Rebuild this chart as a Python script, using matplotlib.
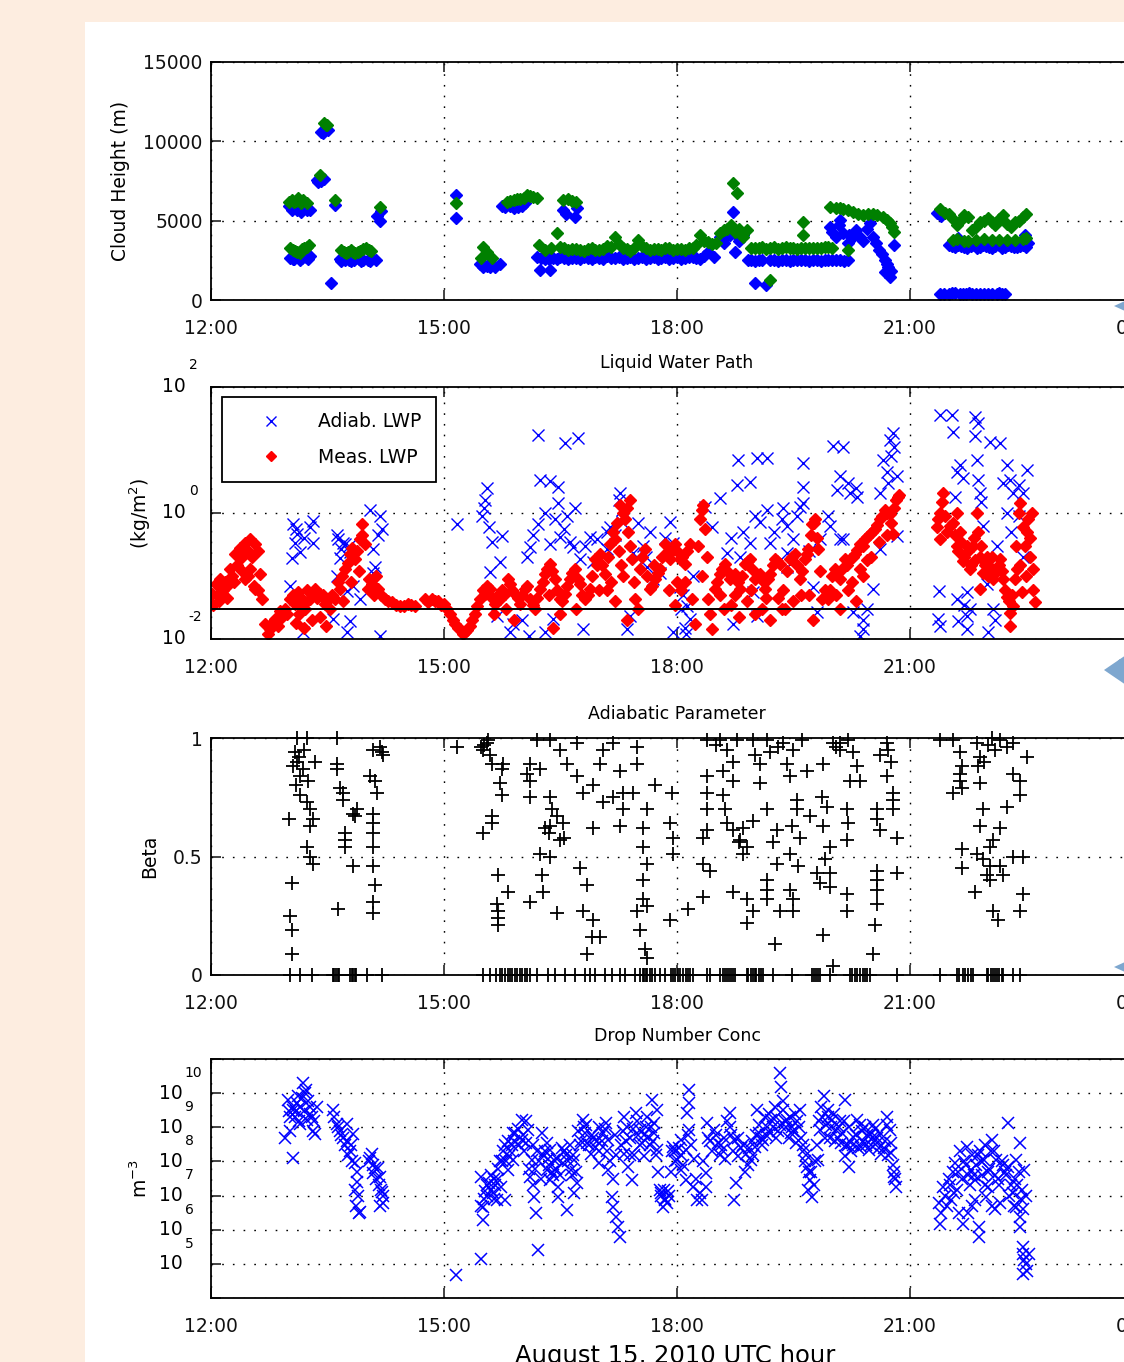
import numpy as np
import matplotlib
matplotlib.use('Agg')
import matplotlib.pyplot as plt
from matplotlib.patches import Rectangle, Polygon
from matplotlib.ticker import NullLocator

plt.rcParams['font.family'] = ['DejaVu Sans']
plt.rcParams['mathtext.default'] = 'regular'

# time axis (UTC hour)
hour_ticks = [12, 15, 18, 21, 24]
hour_labels = ['12:00', '15:00', '18:00', '21:00', '00:00']

# cloud base / cloud top height (hour, m)
cloud_base = [
    (13.01, 5900), (13.06, 5800), (13.11, 5650), (13.16, 5550), (13.21, 5800), (13.27, 5700),
    (13.04, 5700), (13.13, 5850), (13.24, 5650),
    (13.02, 2650), (13.07, 2600), (13.12, 2700), (13.17, 2650), (13.22, 2700), (13.28, 2750),
    (13.05, 2600), (13.14, 2550), (13.25, 2600),
    (13.36, 7550), (13.42, 7500), (13.46, 7600), (13.38, 7450),
    (13.42, 10600), (13.48, 10800), (13.51, 10700), (13.44, 10550),
    (13.55, 1070), (13.60, 6000),
    (13.66, 2600), (13.72, 2500), (13.78, 2550), (13.84, 2500), (13.90, 2600), (13.96, 2500),
    (14.02, 2550), (14.07, 2650), (13.68, 2450), (13.80, 2450), (13.93, 2450), (14.05, 2450),
    (14.12, 2550), (14.14, 5300), (14.17, 5000), (14.19, 5600),
    (15.15, 6600), (15.15, 5150),
    (15.46, 2250), (15.52, 2200), (15.59, 2050), (15.66, 2100), (15.72, 2300), (15.50, 2050),
    (15.56, 2150),
    (15.75, 5950), (15.85, 5900), (15.95, 5850), (16.04, 6100), (15.78, 5850), (15.90, 5800),
    (16.00, 5900),
    (16.24, 1900), (16.37, 1900), (16.53, 5650), (16.69, 5250), (16.71, 5800), (16.57, 5400),
    (16.20, 2700), (16.30, 2600), (16.40, 2650), (16.50, 2700), (16.60, 2600), (16.70, 2650),
    (16.80, 2700), (16.90, 2600), (17.00, 2650), (17.10, 2750), (17.20, 2650), (17.30, 2600),
    (17.40, 2700), (17.50, 2650), (17.60, 2600), (17.70, 2700), (17.80, 2650), (17.90, 2600),
    (18.00, 2700), (18.10, 2650), (18.20, 2700), (18.30, 2600),
    (16.25, 2650), (16.35, 2600), (16.45, 2600), (16.55, 2650), (16.65, 2650), (16.75, 2600),
    (16.85, 2650), (16.95, 2700), (17.05, 2600), (17.15, 2650), (17.25, 2700), (17.35, 2650),
    (17.45, 2600), (17.55, 2700), (17.65, 2650), (17.75, 2600), (17.85, 2700), (17.95, 2650),
    (18.05, 2600), (18.15, 2700), (18.25, 2650), (18.35, 2800),
    (18.55, 4000), (18.60, 3600), (18.68, 4100), (18.72, 5550), (18.78, 4000), (18.85, 4100),
    (18.40, 3000), (18.48, 2700), (18.75, 3000), (18.62, 3900), (18.66, 4300), (18.80, 3700),
    (18.92, 2500), (19.00, 2450), (19.10, 2500), (19.20, 2550), (19.30, 2450), (19.40, 2500),
    (19.50, 2550), (19.60, 2500), (19.70, 2450), (19.80, 2500), (19.90, 2550), (20.00, 2500),
    (20.10, 2500), (20.20, 2550), (18.95, 2550), (19.05, 2500), (19.25, 2500), (19.35, 2550),
    (19.45, 2450), (19.55, 2500), (19.65, 2550), (19.75, 2500), (19.85, 2450), (19.95, 2550),
    (20.05, 2550), (20.15, 2450), (19.00, 1050), (19.15, 950),
    (19.97, 4600), (20.10, 5050), (20.14, 4200), (20.27, 3950), (20.05, 3950), (20.48, 4850),
    (20.53, 3950), (20.60, 3150), (20.68, 2500), (20.72, 2100), (20.74, 1450), (20.68, 1750),
    (20.80, 3450), (20.30, 4400), (20.40, 3700), (20.20, 3600), (20.00, 4300), (20.08, 4700),
    (20.22, 4100), (20.35, 4000), (20.45, 4500), (20.56, 3600), (20.64, 2900), (20.70, 2300),
    (20.76, 1800),
    (21.35, 5500), (21.40, 5300),
    (21.50, 3450), (21.58, 3350), (21.66, 3400), (21.74, 3300), (21.82, 3450), (21.90, 3350),
    (21.98, 3400), (22.06, 3300), (22.14, 3450), (22.22, 3350), (22.30, 3400), (22.38, 3350),
    (22.46, 3450), (22.52, 3600), (21.62, 3900), (22.48, 4100),
    (21.54, 3400), (21.62, 3450), (21.70, 3350), (21.78, 3400), (21.86, 3300), (21.94, 3450),
    (22.02, 3350), (22.10, 3400), (22.18, 3300), (22.26, 3450), (22.34, 3350), (22.42, 3400),
    (22.50, 3350),
    (21.39, 380), (21.50, 400), (21.58, 420), (21.64, 380), (21.72, 400), (21.80, 380),
    (21.90, 400), (22.00, 380), (22.12, 400), (22.18, 380), (21.44, 390), (21.54, 410),
    (21.68, 390), (21.76, 410), (21.85, 390), (21.95, 380), (22.06, 400), (22.15, 410),
    (22.22, 390),
]
cloud_top = [
    (13.01, 6200), (13.07, 6150), (13.12, 6400), (13.18, 6300), (13.24, 6100), (13.04, 6300),
    (13.10, 6250), (13.16, 6100),
    (13.02, 3250), (13.08, 3100), (13.14, 2950), (13.20, 3300), (13.26, 3450), (13.05, 3150),
    (13.11, 3000), (13.17, 3200), (13.23, 3350),
    (13.40, 7850), (13.45, 11150), (13.50, 11000), (13.48, 11050), (13.60, 6300),
    (13.68, 3150), (13.74, 2950), (13.80, 3150), (13.86, 2950), (13.92, 3100), (14.00, 3250),
    (14.06, 3100), (13.71, 3050), (13.77, 3050), (13.83, 3050), (13.89, 3000), (13.96, 3200),
    (14.03, 3150), (14.18, 5850), (15.15, 6100),
    (15.50, 3350), (15.55, 3000), (15.47, 2650), (15.62, 2650),
    (15.81, 6200), (15.90, 6300), (15.98, 6350), (16.07, 6600), (16.15, 6500), (16.20, 6400),
    (15.85, 6250), (15.94, 6350), (16.03, 6450), (16.11, 6550),
    (16.53, 6300), (16.70, 6200), (16.60, 6350), (16.65, 6250),
    (16.22, 3450), (16.30, 3150), (16.38, 3300), (16.49, 3350), (16.46, 4200),
    (16.60, 3150), (16.70, 3200), (16.80, 3100), (16.90, 3250), (17.00, 3150), (17.10, 3400),
    (17.20, 3950), (17.30, 3300), (17.40, 3100), (17.50, 3800), (17.60, 3250), (17.70, 3200),
    (17.80, 3150), (17.90, 3300), (18.00, 3200), (18.10, 3150), (18.20, 3300), (18.30, 4100),
    (18.40, 3650), (18.50, 3600),
    (16.55, 3250), (16.65, 3200), (16.75, 3150), (16.85, 3200), (16.95, 3150), (17.05, 3200),
    (17.15, 3350), (17.25, 3500), (17.35, 3200), (17.45, 3300), (17.55, 3400), (17.65, 3150),
    (17.75, 3200), (17.85, 3250), (17.95, 3150), (18.05, 3200), (18.15, 3250), (18.25, 3450),
    (18.35, 3700), (18.45, 3500), (18.55, 4200), (18.65, 4500), (18.75, 4300), (18.85, 4000),
    (18.72, 7350), (18.77, 6750), (18.60, 4400), (18.70, 4700), (18.80, 4500), (18.90, 4400),
    (19.20, 1250),
    (18.95, 3250), (19.05, 3300), (19.15, 3200), (19.25, 3350), (19.35, 3250), (19.45, 3300),
    (19.55, 3200), (19.62, 4900), (19.62, 4100), (19.70, 3300), (19.80, 3250), (19.90, 3350),
    (20.00, 3300), (20.20, 3150), (19.00, 3250), (19.10, 3350), (19.20, 3300), (19.30, 3200),
    (19.40, 3350), (19.50, 3250), (19.60, 3300), (19.65, 3300), (19.75, 3250), (19.85, 3300),
    (19.95, 3350),
    (19.97, 5850), (20.05, 5800), (20.14, 5750), (20.27, 5550), (20.40, 5350), (20.52, 5450),
    (20.65, 5250), (20.74, 4850), (20.80, 4300), (20.10, 5800), (20.20, 5650), (20.33, 5450),
    (20.46, 5400), (20.58, 5350), (20.70, 5050), (20.77, 4600),
    (21.38, 5750), (21.50, 5400), (21.60, 4750), (21.70, 5350), (21.80, 4400), (21.90, 4900),
    (22.00, 5150), (22.10, 4700), (22.20, 5350), (22.30, 4600), (22.40, 5000), (22.50, 5400),
    (21.45, 5500), (21.55, 5100), (21.65, 5000), (21.75, 5200), (21.85, 4600), (21.95, 5000),
    (22.05, 4900), (22.15, 5100), (22.25, 4800), (22.35, 4900), (22.45, 5200),
    (21.55, 3800), (21.75, 3700), (21.95, 3850), (22.15, 3750), (22.35, 3800), (22.50, 3900),
    (21.60, 3850), (21.70, 3700), (21.85, 3800), (22.05, 3750), (22.25, 3800), (22.45, 3850),
]

# liquid water path (hour, kg/m2)
adiab_lwp = [
    (13.06, 0.66), (13.11, 0.47), (13.08, 0.34), (13.15, 0.24), (13.04, 0.19), (13.31, 0.34),
    (13.31, 0.74), (13.02, 0.07), (13.57, 0.021), (13.79, 0.019), (13.75, 0.013), (13.18, 0.013),
    (13.64, 0.38), (13.70, 0.34), (13.79, 0.24), (13.66, 0.19), (13.62, 0.10), (13.75, 0.057),
    (13.83, 0.07), (13.92, 0.043), (14.05, 1.13), (14.18, 0.9), (14.20, 0.55), (14.09, 0.265),
    (14.11, 0.14), (14.09, 0.11), (14.18, 0.011), (15.17, 0.66), (13.62, 0.45), (13.72, 0.32),
    (13.10, 0.55), (13.20, 0.4), (13.28, 0.6), (13.68, 0.27), (13.78, 0.3), (14.15, 0.45),
    (15.55, 2.5), (15.53, 1.63), (15.49, 0.9), (15.62, 0.35), (15.75, 0.43), (15.72, 0.165),
    (15.59, 0.117), (16.07, 0.2), (16.11, 0.29), (16.21, 17.0), (16.56, 13.0), (16.73, 15.5),
    (16.24, 3.4), (16.36, 3.2), (16.47, 2.6), (16.47, 1.45), (16.69, 1.2), (16.58, 0.9),
    (16.21, 0.66), (16.36, 0.32), (16.49, 0.42), (16.66, 0.29), (16.75, 0.184), (16.88, 0.42),
    (16.97, 0.38), (17.10, 0.5), (17.14, 0.6), (17.10, 0.265), (16.92, 0.165), (17.27, 2.1),
    (17.29, 1.13), (17.29, 0.72), (17.43, 0.23), (17.56, 0.3), (17.61, 0.14), (17.69, 0.089),
    (17.78, 0.11), (17.91, 0.72), (17.95, 0.34), (18.04, 0.068), (18.13, 0.033), (18.17, 0.021),
    (17.95, 0.013), (17.39, 0.023), (17.36, 0.0144), (16.79, 0.0144), (16.40, 0.021),
    (15.89, 0.017), (15.68, 0.023), (15.85, 0.013), (18.36, 1.25), (18.55, 1.75), (18.79, 7.0),
    (18.77, 2.8), (18.94, 3.1), (19.03, 7.5), (19.16, 7.5), (19.07, 0.72), (19.16, 1.13),
    (19.36, 1.2), (19.20, 0.34), (18.64, 0.23), (18.81, 0.2), (18.94, 0.34), (18.98, 0.056),
    (19.03, 0.023), (18.72, 0.017), (19.42, 0.62), (19.49, 0.38), (19.42, 0.23), (19.42, 0.14),
    (19.62, 6.3), (19.62, 2.6), (19.62, 1.45), (19.58, 1.25), (19.75, 0.068), (19.80, 0.027),
    (19.84, 0.38), (19.97, 0.62), (20.10, 0.38), (20.01, 11.5), (20.14, 11.0), (20.10, 3.8),
    (20.06, 2.35), (20.23, 2.1), (20.32, 1.8), (20.27, 0.027), (20.39, 0.0144), (20.52, 0.062),
    (20.61, 2.1), (20.65, 7.0), (20.74, 14.5), (20.78, 18.5), (20.70, 4.4), (20.83, 3.8),
    (20.83, 0.43), (20.61, 0.265), (20.14, 0.38), (18.05, 0.03), (18.10, 0.015), (18.08, 0.05),
    (18.12, 0.012), (16.00, 0.02), (16.10, 0.011), (16.30, 0.013), (20.40, 0.02), (20.35, 0.011),
    (17.65, 0.5), (17.60, 0.2), (15.52, 1.2), (15.58, 0.6), (16.15, 0.45), (16.30, 1.0),
    (16.43, 0.8), (16.55, 0.55), (16.62, 0.35), (16.82, 0.3), (17.20, 0.45), (17.25, 1.6),
    (17.50, 0.7), (17.85, 0.4), (18.20, 0.1), (18.45, 0.6), (18.70, 0.4), (18.85, 0.5),
    (19.00, 0.9), (19.25, 0.5), (19.35, 0.8), (19.55, 0.9), (19.70, 0.25), (19.95, 0.9),
    (20.20, 3.0), (20.30, 2.5), (20.45, 0.03), (20.75, 8.0), (20.80, 11.0), (20.72, 3.0),
    (21.39, 36.0), (21.54, 36.0), (21.55, 19.0), (21.84, 33.0), (21.88, 27.0), (21.84, 16.5),
    (22.03, 13.5), (22.16, 13.0), (21.64, 5.8), (21.68, 3.6), (21.86, 7.0), (21.88, 3.4),
    (21.90, 2.1), (22.25, 5.8), (22.51, 4.9), (22.29, 3.4), (22.33, 2.1), (21.58, 1.8),
    (22.25, 1.0), (21.94, 0.62), (22.45, 2.1), (22.12, 0.3), (22.45, 0.2), (21.37, 0.057),
    (21.73, 0.055), (21.60, 0.043), (21.77, 0.030), (21.73, 0.023), (22.07, 0.030), (21.36, 0.021),
    (21.39, 0.016), (21.73, 0.0144), (22.00, 0.013), (21.99, 0.074), (21.60, 4.5), (21.92, 1.5),
    (22.20, 3.0), (22.40, 2.8), (22.30, 0.5), (22.40, 0.9), (21.70, 0.035), (22.10, 0.02),
    (21.62, 0.019),
]
meas_lwp = [
    (12.01, 0.051), (12.06, 0.074), (12.12, 0.089), (12.18, 0.08), (12.24, 0.128), (12.31, 0.22),
    (12.37, 0.28), (12.44, 0.34), (12.50, 0.38), (12.57, 0.32), (12.61, 0.25), (12.63, 0.107),
    (12.66, 0.043), (12.70, 0.017), (12.76, 0.0144), (12.82, 0.021), (12.89, 0.028), (12.95, 0.030),
    (12.50, 0.128), (12.57, 0.062), (12.44, 0.089), (12.55, 0.07), (12.47, 0.10), (12.60, 0.06),
    (12.03, 0.035), (12.09, 0.05), (12.15, 0.06), (12.21, 0.07), (12.27, 0.1), (12.34, 0.15),
    (12.40, 0.2), (12.47, 0.25), (12.53, 0.2), (12.40, 0.12), (12.30, 0.08), (12.20, 0.045),
    (12.10, 0.04), (12.73, 0.012), (12.79, 0.018), (12.86, 0.016), (12.92, 0.022), (12.98, 0.025),
    (13.02, 0.043), (13.08, 0.036), (13.15, 0.046), (13.21, 0.030), (13.27, 0.043), (13.34, 0.062),
    (13.40, 0.051), (13.47, 0.036), (13.53, 0.030), (13.60, 0.043), (13.66, 0.062), (13.73, 0.128),
    (13.79, 0.22), (13.85, 0.184), (13.92, 0.38), (13.94, 0.66), (13.98, 0.32), (14.02, 0.062),
    (14.07, 0.074), (14.15, 0.062), (14.24, 0.043), (14.33, 0.038), (14.43, 0.034), (14.54, 0.036),
    (14.63, 0.034), (13.10, 0.018), (13.20, 0.015), (13.30, 0.02),
    (13.05, 0.05), (13.12, 0.055), (13.18, 0.035), (13.24, 0.06), (13.30, 0.05), (13.37, 0.045),
    (13.44, 0.05), (13.50, 0.04), (13.13, 0.025), (13.40, 0.022), (13.48, 0.016),
    (13.56, 0.05), (13.63, 0.08), (13.69, 0.1), (13.76, 0.16), (13.82, 0.28), (13.88, 0.25),
    (13.95, 0.45), (13.90, 0.12), (13.80, 0.08), (13.70, 0.04),
    (14.04, 0.09), (14.10, 0.05), (14.19, 0.05), (14.28, 0.04), (14.38, 0.035), (14.48, 0.033),
    (14.58, 0.035), (14.12, 0.1),
    (14.76, 0.043), (14.85, 0.043), (14.92, 0.040), (15.00, 0.036), (15.08, 0.025), (15.14, 0.017),
    (15.21, 0.0144), (15.27, 0.013), (15.33, 0.016), (15.40, 0.025), (15.46, 0.043), (15.53, 0.051),
    (14.80, 0.038), (14.89, 0.04), (14.96, 0.035), (15.04, 0.03), (15.11, 0.02), (15.18, 0.015),
    (15.24, 0.012), (15.30, 0.014), (15.36, 0.02), (15.43, 0.033),
    (15.59, 0.062), (15.66, 0.036), (15.72, 0.043), (15.79, 0.051), (15.85, 0.074), (15.91, 0.051),
    (15.98, 0.036), (16.04, 0.062), (16.11, 0.043), (16.17, 0.030), (16.24, 0.062), (16.30, 0.107),
    (15.50, 0.06), (15.56, 0.07), (15.62, 0.045), (15.69, 0.05), (15.75, 0.06), (15.82, 0.09),
    (15.88, 0.06), (15.95, 0.045), (16.01, 0.05), (16.07, 0.07), (16.14, 0.035), (16.20, 0.045),
    (16.27, 0.08),
    (16.36, 0.153), (16.43, 0.089), (16.49, 0.043), (16.56, 0.051), (16.62, 0.089), (16.69, 0.128),
    (16.75, 0.074), (16.82, 0.043), (16.88, 0.062), (16.94, 0.184), (17.01, 0.22), (17.07, 0.107),
    (16.33, 0.13), (16.39, 0.12), (16.46, 0.06), (16.52, 0.04), (16.59, 0.07), (16.65, 0.11),
    (16.72, 0.09), (16.78, 0.05), (16.85, 0.05), (16.91, 0.1), (16.97, 0.15), (16.99, 0.06),
    (16.70, 0.03), (16.50, 0.025),
    (17.14, 0.32), (17.20, 0.38), (17.27, 1.36), (17.33, 0.79), (17.39, 1.63), (17.42, 0.184),
    (17.04, 0.15), (17.11, 0.2), (17.17, 0.5), (17.23, 0.7), (17.25, 0.25), (17.30, 1.0),
    (17.36, 1.2), (17.37, 0.5), (17.44, 0.08), (17.28, 0.15), (17.15, 0.08),
    (17.46, 0.043), (17.52, 0.128), (17.59, 0.265), (17.65, 0.062), (17.72, 0.089), (17.78, 0.128),
    (17.85, 0.32), (17.91, 0.184), (17.97, 0.32), (18.04, 0.184), (18.10, 0.153), (18.17, 0.32),
    (17.55, 0.2), (17.62, 0.1), (17.68, 0.07), (17.75, 0.11), (17.81, 0.2), (17.88, 0.25),
    (17.94, 0.25), (18.00, 0.25), (18.07, 0.2), (18.13, 0.25), (17.70, 0.15), (17.90, 0.06),
    (18.00, 0.08), (17.98, 0.035),
    (18.19, 0.043), (18.23, 0.017), (18.30, 0.79), (18.34, 1.36), (18.36, 0.55), (18.40, 0.043),
    (18.27, 0.3), (18.32, 1.1), (18.38, 0.2), (18.42, 0.025), (18.32, 0.1),
    (18.45, 0.0144), (18.49, 0.062), (18.55, 0.107), (18.62, 0.153), (18.68, 0.089), (18.75, 0.107),
    (18.81, 0.062), (18.88, 0.153), (18.94, 0.184), (19.00, 0.089), (19.07, 0.107), (19.13, 0.062),
    (19.20, 0.107), (19.26, 0.184), (19.33, 0.153), (19.39, 0.030), (19.45, 0.184), (19.52, 0.22),
    (18.52, 0.08), (18.58, 0.13), (18.65, 0.12), (18.71, 0.1), (18.78, 0.08), (18.84, 0.1),
    (18.91, 0.17), (18.97, 0.13), (19.04, 0.1), (19.10, 0.085), (19.17, 0.09), (19.23, 0.15),
    (19.29, 0.17), (19.36, 0.06), (18.55, 0.05), (18.75, 0.05), (18.95, 0.06), (19.15, 0.045),
    (19.35, 0.03), (18.80, 0.022), (19.20, 0.02),
    (19.58, 0.089), (19.65, 0.184), (19.69, 0.265), (19.74, 0.66), (19.78, 0.79), (19.82, 0.265),
    (19.87, 0.043), (19.94, 0.043), (20.03, 0.128), (20.10, 0.089), (20.16, 0.184), (20.23, 0.184),
    (19.42, 0.12), (19.48, 0.2), (19.55, 0.15), (19.61, 0.12), (19.67, 0.22), (19.72, 0.45),
    (19.76, 0.7), (19.80, 0.4), (19.84, 0.12), (19.90, 0.06), (19.60, 0.05), (19.50, 0.04),
    (20.29, 0.22), (20.36, 0.32), (20.42, 0.38), (20.48, 0.46), (20.55, 0.55), (20.61, 0.79),
    (20.68, 1.13), (20.74, 0.95), (20.78, 0.46), (20.82, 1.63), (20.86, 1.96),
    (19.97, 0.06), (20.00, 0.1), (20.06, 0.11), (20.13, 0.13), (20.19, 0.15), (20.26, 0.2),
    (20.32, 0.26), (20.39, 0.3), (20.45, 0.42), (20.51, 0.5), (20.58, 0.65), (20.64, 0.9),
    (20.71, 1.0), (20.76, 0.7), (20.80, 1.2), (20.84, 1.8), (20.50, 0.2), (20.60, 0.35),
    (20.70, 0.45), (20.25, 0.08), (20.05, 0.05), (20.35, 0.13), (20.45, 0.18),
    (18.70, 0.035), (18.90, 0.04), (19.10, 0.03), (19.30, 0.045), (19.00, 0.025), (18.60, 0.03),
    (17.10, 0.06), (17.30, 0.1), (17.40, 0.3), (17.50, 0.03), (17.20, 0.04), (17.35, 0.02),
    (16.40, 0.015), (16.35, 0.05), (15.65, 0.025), (15.80, 0.03), (15.90, 0.02),
    (20.20, 0.06), (20.30, 0.04), (20.40, 0.1), (20.10, 0.03), (19.70, 0.05), (19.75, 0.02),
    (18.05, 0.06), (18.10, 0.08),
    (21.35, 0.6), (21.39, 1.0), (21.43, 2.1), (21.39, 0.38), (21.51, 0.62), (21.60, 1.0),
    (21.64, 0.5), (21.60, 0.3), (21.73, 0.3), (21.68, 0.17), (21.77, 0.128), (21.86, 1.0),
    (21.88, 0.5), (21.90, 0.2), (21.94, 0.11), (21.90, 0.062), (22.03, 0.14), (22.07, 0.089),
    (22.12, 0.128), (22.16, 0.184), (22.20, 0.089), (22.25, 0.047), (22.29, 0.026), (22.29, 0.016),
    (22.33, 0.034), (22.38, 0.128), (22.40, 1.0), (22.42, 1.45), (22.51, 0.5), (22.54, 0.2),
    (22.57, 1.0), (22.59, 0.128), (22.61, 0.038), (22.44, 0.055), (21.99, 0.2), (21.81, 0.3),
    (21.36, 0.8), (21.41, 1.5), (21.45, 0.9), (21.48, 0.5), (21.55, 0.7), (21.58, 0.45),
    (21.62, 0.25), (21.66, 0.35), (21.70, 0.2), (21.75, 0.25), (21.79, 0.15), (21.83, 0.4),
    (21.84, 0.18), (21.92, 0.3), (21.96, 0.15), (22.00, 0.1), (22.05, 0.2), (22.09, 0.11),
    (22.14, 0.15), (22.18, 0.12), (22.22, 0.06), (22.27, 0.04), (22.31, 0.05), (22.35, 0.09),
    (22.37, 0.3), (22.45, 0.6), (22.48, 0.3), (22.52, 0.8), (22.55, 0.4), (22.58, 0.06),
    (22.50, 0.1), (22.42, 0.15),
]
lwp_threshold = 0.03

# adiabatic parameter beta (hour, beta)
beta = [
    (13.11, 1.0), (13.24, 1.0), (13.62, 1.0), (13.08, 0.94), (13.11, 0.90), (13.06, 0.88),
    (13.15, 0.84), (13.34, 0.90), (13.25, 0.82), (13.13, 0.92), (13.18, 0.87), (13.10, 0.80),
    (13.20, 0.95), (13.15, 0.76), (13.24, 0.73), (13.27, 0.70), (13.31, 0.66), (13.27, 0.63),
    (13.00, 0.66), (13.24, 0.54), (13.31, 0.47), (13.27, 0.50), (13.04, 0.39), (13.02, 0.25),
    (13.04, 0.19), (13.04, 0.09),
    (13.62, 0.89), (13.62, 0.87), (13.66, 0.79), (13.70, 0.77), (13.70, 0.74), (13.83, 0.68),
    (13.88, 0.70), (13.85, 0.67), (13.73, 0.60), (13.73, 0.57), (13.73, 0.54), (13.83, 0.46),
    (13.64, 0.28),
    (14.09, 0.95), (14.20, 0.94), (14.17, 0.96), (14.22, 0.93), (14.05, 0.84), (14.11, 0.82),
    (14.14, 0.77), (14.09, 0.68), (14.09, 0.64), (14.09, 0.60), (14.09, 0.54), (14.09, 0.46),
    (14.11, 0.38), (14.09, 0.31), (14.09, 0.26),
    (15.17, 0.96), (15.55, 0.98), (15.50, 0.95), (15.52, 0.97), (15.57, 0.99), (15.48, 0.96),
    (15.59, 0.93), (15.62, 0.89), (15.76, 0.89), (15.75, 0.87), (15.72, 0.81), (15.75, 0.76),
    (15.62, 0.67), (15.62, 0.64), (15.50, 0.60), (15.70, 0.42), (15.82, 0.35), (15.68, 0.30),
    (15.70, 0.27), (15.70, 0.24), (15.70, 0.21),
    (16.11, 0.89), (16.07, 0.85), (16.11, 0.82), (16.11, 0.75), (16.24, 0.87), (16.20, 0.99),
    (16.36, 0.99), (16.49, 0.95), (16.58, 0.89), (16.71, 0.98), (16.36, 0.75), (16.39, 0.70),
    (16.45, 0.67), (16.36, 0.63), (16.53, 0.64), (16.49, 0.57), (16.24, 0.51), (16.36, 0.50),
    (16.26, 0.42), (16.27, 0.35), (16.11, 0.31), (16.45, 0.26), (16.75, 0.45), (16.84, 0.38),
    (16.79, 0.27), (16.92, 0.23), (16.91, 0.16), (17.01, 0.16), (16.84, 0.09), (16.71, 0.84),
    (16.79, 0.77), (16.92, 0.80), (17.01, 0.89), (17.05, 0.95), (17.18, 0.98), (17.27, 0.86),
    (17.30, 0.77), (17.18, 0.75), (17.30, 0.70), (17.27, 0.63), (16.92, 0.62), (17.05, 0.73),
    (16.30, 0.62), (16.35, 0.60), (16.55, 0.58),
    (17.48, 0.96), (17.48, 0.89), (17.43, 0.77), (17.61, 0.70), (17.56, 0.62), (17.56, 0.54),
    (17.61, 0.47), (17.56, 0.40), (17.56, 0.32), (17.61, 0.29), (17.48, 0.27), (17.52, 0.19),
    (17.59, 0.11), (17.61, 0.07), (17.72, 0.80),
    (17.94, 0.77), (17.91, 0.64), (17.95, 0.58), (17.95, 0.51), (17.91, 0.23), (18.14, 0.28),
    (18.39, 0.99), (18.55, 0.99), (18.77, 0.99), (18.98, 0.99), (19.16, 0.99), (19.36, 0.98),
    (19.61, 0.99), (20.10, 0.98), (20.70, 0.98), (18.72, 0.90), (18.39, 0.84), (18.59, 0.86),
    (18.72, 0.82), (18.39, 0.77), (18.59, 0.76), (18.39, 0.70), (18.62, 0.70), (18.64, 0.64),
    (18.39, 0.61), (18.33, 0.58), (18.72, 0.61), (18.85, 0.62), (18.81, 0.57), (18.90, 0.54),
    (18.98, 0.65), (18.80, 0.56), (18.85, 0.51), (18.33, 0.47), (18.42, 0.44), (18.33, 0.33),
    (18.72, 0.35), (18.90, 0.32), (18.98, 0.27), (18.90, 0.22), (19.07, 0.89), (19.07, 0.81),
    (19.20, 0.94), (19.16, 0.70), (19.29, 0.61), (19.24, 0.56), (19.29, 0.47), (19.16, 0.40),
    (19.16, 0.36), (19.16, 0.32), (19.33, 0.27), (19.45, 0.36), (19.49, 0.32), (19.49, 0.27),
    (19.26, 0.13), (19.42, 0.89), (19.45, 0.84), (19.67, 0.86), (19.54, 0.74), (19.54, 0.70),
    (19.71, 0.67), (19.48, 0.63), (19.58, 0.58), (19.45, 0.51), (19.56, 0.46), (19.88, 0.89),
    (19.87, 0.75), (19.93, 0.71), (19.88, 0.63), (19.97, 0.54), (19.91, 0.49), (19.80, 0.43),
    (19.97, 0.43), (19.84, 0.39), (19.97, 0.37), (19.88, 0.17), (20.01, 0.98), (20.10, 0.95),
    (20.27, 0.94), (20.32, 0.88), (20.23, 0.82), (20.36, 0.82), (20.19, 0.70), (20.20, 0.64),
    (20.19, 0.57), (20.19, 0.34), (20.19, 0.27), (20.01, 0.04), (20.61, 0.93), (20.70, 0.84),
    (20.78, 0.77), (20.78, 0.74), (20.78, 0.70), (20.57, 0.70), (20.57, 0.66), (20.61, 0.61),
    (20.83, 0.58), (20.57, 0.44), (20.57, 0.40), (20.57, 0.36), (20.57, 0.30), (20.55, 0.21),
    (20.52, 0.09), (20.83, 0.43), (18.50, 0.97), (18.65, 0.95), (19.00, 0.93), (19.30, 0.96),
    (19.50, 0.95), (20.05, 0.96), (20.20, 0.99), (20.75, 0.90), (20.72, 0.95),
    (21.39, 0.99), (21.55, 0.99), (21.64, 0.94), (21.67, 0.88), (21.64, 0.85), (21.64, 0.82),
    (21.67, 0.79), (21.55, 0.77), (21.86, 0.98), (21.90, 0.92), (21.88, 0.88), (21.90, 0.81),
    (22.16, 0.99), (22.25, 0.96), (22.33, 0.98), (22.51, 0.92), (22.33, 0.85), (22.42, 0.82),
    (22.42, 0.76), (22.25, 0.71), (21.94, 0.70), (21.90, 0.63), (22.16, 0.62), (22.07, 0.57),
    (22.03, 0.54), (21.86, 0.51), (21.67, 0.53), (21.67, 0.45), (21.94, 0.49), (22.03, 0.46),
    (22.16, 0.46), (22.20, 0.42), (22.33, 0.50), (22.45, 0.50), (21.84, 0.35), (22.07, 0.27),
    (22.13, 0.23), (22.45, 0.34), (22.42, 0.27), (21.99, 0.42), (22.03, 0.40), (22.00, 0.97),
    (22.05, 1.00), (22.10, 0.95), (21.95, 0.90),
    # no cloud -> beta = 0
    (13.02, 0), (13.15, 0), (13.30, 0), (13.57, 0), (13.59, 0), (13.61, 0), (13.63, 0),
    (13.65, 0), (13.79, 0), (13.81, 0), (13.83, 0), (13.85, 0), (13.87, 0), (14.01, 0),
    (14.20, 0),
    (15.50, 0), (15.59, 0), (15.67, 0), (15.72, 0), (15.75, 0), (15.79, 0), (15.82, 0),
    (15.85, 0), (15.88, 0), (15.91, 0), (15.94, 0), (15.98, 0), (16.01, 0), (16.04, 0),
    (16.07, 0), (16.11, 0), (16.20, 0), (16.34, 0), (16.43, 0), (16.56, 0), (16.69, 0),
    (16.82, 0), (16.88, 0), (16.94, 0), (17.07, 0), (17.16, 0), (17.27, 0), (17.33, 0),
    (17.46, 0), (17.52, 0), (17.56, 0), (17.58, 0), (17.60, 0), (17.62, 0), (17.65, 0),
    (17.68, 0), (17.72, 0), (17.78, 0), (17.85, 0), (17.92, 0), (17.95, 0), (17.98, 0),
    (18.01, 0), (18.04, 0), (18.08, 0), (18.11, 0), (18.14, 0), (18.17, 0), (18.21, 0),
    (18.39, 0), (18.43, 0), (18.56, 0), (18.59, 0), (18.62, 0), (18.64, 0), (18.67, 0),
    (18.70, 0), (18.72, 0), (18.75, 0), (18.90, 0), (18.92, 0), (18.95, 0), (18.98, 0),
    (19.00, 0), (19.02, 0), (19.05, 0), (19.08, 0), (19.11, 0), (19.24, 0), (19.48, 0),
    (19.74, 0), (19.76, 0), (19.79, 0), (19.82, 0), (19.84, 0), (19.97, 0), (20.23, 0),
    (20.25, 0), (20.29, 0), (20.32, 0), (20.36, 0), (20.39, 0), (20.42, 0), (20.45, 0),
    (20.48, 0), (20.83, 0), (21.39, 0), (21.60, 0), (21.63, 0), (21.68, 0), (21.71, 0),
    (21.75, 0), (21.78, 0), (21.81, 0), (21.99, 0), (22.01, 0), (22.04, 0), (22.07, 0),
    (22.09, 0), (22.12, 0), (22.15, 0), (22.18, 0), (22.20, 0), (22.33, 0), (22.42, 0),
]

# drop number concentration (hour, m^-3)
drop_conc = [
    (12.99, 6.3e9), (13.02, 2.0e9), (13.02, 8.0e8), (13.06, 3.2e9), (13.15, 4.0e9), (13.18, 2.0e10),
    (13.21, 1.0e10), (13.24, 1.6e9), (13.31, 8.0e8), (13.36, 4.0e9), (13.34, 6.3e8), (13.06, 1.26e8),
    (13.11, 5.0e9), (13.27, 2.5e9), (12.95, 5.0e8), (13.15, 1.26e9), (13.05, 4.0e9), (13.12, 8.0e9),
    (13.20, 3.0e9), (13.25, 6.0e9), (13.30, 2.0e9), (13.22, 1.2e10), (13.00, 3.0e9), (13.08, 2.0e9),
    (13.13, 1.5e9), (13.17, 7.0e9), (13.28, 4.0e9), (13.33, 1.5e9), (13.10, 3.0e9),
    (13.57, 3.2e9), (13.62, 1.26e9), (13.66, 8.0e8), (13.70, 5.0e8), (13.75, 4.0e8), (13.79, 2.0e8),
    (13.82, 1.0e8), (13.85, 9.0e7), (13.88, 5.0e7), (13.88, 2.5e7), (13.89, 1.0e7), (13.92, 3.2e6),
    (13.83, 6.3e8), (13.75, 1.26e9), (13.58, 2.0e9), (13.64, 1.0e9), (13.68, 6.0e8), (13.72, 3.0e8),
    (13.77, 1.5e8), (13.80, 3.0e8), (13.86, 1.5e7), (13.87, 5.0e6), (13.90, 3.0e6),
    (14.05, 1.26e8), (14.11, 6.3e7), (14.09, 4.5e7), (14.18, 3.5e7), (14.20, 1.26e7), (14.18, 5.0e6),
    (14.15, 6.3e7), (14.07, 1.6e8), (14.03, 1.0e8), (14.08, 8.0e7), (14.13, 3.0e7), (14.16, 2.0e7),
    (14.22, 1.0e7), (14.19, 1.5e7), (14.21, 6.0e6),
    (15.16, 4.7e4), (15.47, 1.4e5), (16.21, 2.5e5),
    (15.47, 3.5e7), (15.53, 1.4e7), (15.50, 4.7e6), (15.50, 1.9e6), (15.58, 2.3e7), (15.63, 1.2e7),
    (15.74, 1.8e7), (15.68, 7.4e6), (15.79, 7.4e6), (15.84, 1.4e8), (15.82, 5.6e7), (15.89, 6.6e8),
    (16.00, 1.6e9), (16.00, 4.3e8), (16.05, 3.4e8), (16.08, 8.3e8), (15.89, 1.1e8), (16.13, 1.1e8),
    (16.11, 3.5e7), (16.16, 9.3e6), (16.18, 3.0e6), (16.26, 6.6e8), (16.32, 3.4e8), (16.37, 2.1e8),
    (16.32, 5.6e7), (16.42, 1.1e8), (16.37, 2.9e7), (16.47, 1.8e7), (16.58, 3.8e6), (16.47, 9.3e6),
    (16.53, 8.7e7), (16.63, 5.6e7), (16.68, 1.1e8), (16.71, 2.3e7), (16.68, 1.2e7), (16.79, 1.6e9),
    (16.82, 6.6e8), (16.84, 3.4e8), (16.89, 1.7e8), (16.95, 2.7e8), (17.00, 1.05e9), (17.08, 1.3e9),
    (17.11, 4.3e8), (17.00, 8.7e7), (17.11, 5.6e7), (17.16, 9.3e6), (17.18, 4.7e6), (17.21, 2.4e6),
    (17.24, 1.2e6), (17.26, 6.3e5), (17.32, 2.0e9), (17.32, 1.7e8), (17.37, 7.1e7), (17.42, 2.9e7),
    (17.47, 2.6e9), (17.53, 8.3e8), (17.55, 3.4e8), (17.58, 1.4e8), (17.63, 5.2e8), (17.68, 6.3e9),
    (17.74, 3.2e9), (17.71, 1.3e9), (17.74, 2.1e8), (17.79, 1.2e7), (17.84, 7.4e6), (17.82, 4.7e6),
    (17.89, 1.4e7), (17.95, 2.7e8), (18.00, 1.1e8), (18.05, 5.6e7), (18.11, 2.9e7), (18.05, 4.3e8),
    (18.16, 1.2e10), (18.16, 5.0e9), (18.13, 2.6e9), (18.16, 8.3e8), (18.11, 2.1e8), (18.21, 1.8e7),
    (18.32, 7.4e6), (18.37, 1.8e7), (18.26, 7.4e6), (18.37, 4.5e7), (18.39, 1.3e9), (18.47, 8.3e8),
    (18.53, 3.4e8), (18.58, 2.1e8), (18.68, 2.6e9), (18.68, 1.05e9), (18.74, 4.3e8), (18.76, 2.3e7),
    (18.74, 7.4e6), (18.79, 1.4e8), (18.89, 1.7e8), (18.95, 1.1e8), (19.00, 2.7e8), (19.03, 3.2e9),
    (19.05, 6.6e8), (19.11, 4.3e8), (19.16, 1.05e9), (19.21, 1.6e9), (19.26, 4.0e9), (19.32, 3.8e10),
    (19.34, 1.5e10), (19.37, 3.2e9), (19.42, 1.6e9), (19.47, 6.6e8), (19.53, 3.4e8), (19.58, 3.2e9),
    (19.63, 2.1e8), (19.68, 7.1e7), (19.71, 2.9e7), (19.74, 9.3e6), (19.82, 1.1e8), (19.84, 8.3e8),
    (19.89, 8.0e9), (19.95, 3.2e9), (20.00, 1.6e9), (20.05, 8.3e8), (20.16, 6.3e9), (20.11, 3.4e8),
    (20.16, 1.4e8), (20.21, 7.1e7), (20.26, 5.2e8), (20.32, 1.6e9), (20.37, 2.7e8), (20.42, 1.05e9),
    (20.47, 2.1e8), (20.53, 5.2e8), (20.58, 3.4e8), (20.63, 1.7e8), (20.71, 2.0e9), (20.74, 8.3e8),
    (20.76, 3.4e8), (20.79, 3.5e7), (20.82, 1.8e7),
    (15.55, 2.0e7), (15.60, 4.0e7), (15.65, 3.0e7), (15.70, 6.0e7), (15.75, 1.0e8), (15.78, 3.0e8),
    (15.85, 2.0e8), (15.90, 4.0e8), (15.95, 9.0e8), (16.02, 6.0e8), (16.15, 3.0e8), (16.20, 2.0e8),
    (16.28, 1.5e8), (16.35, 8.0e7), (16.40, 4.0e7), (16.45, 1.2e8), (16.55, 2.0e8), (16.60, 1.0e8),
    (16.65, 4.0e7), (16.75, 3.0e8), (16.80, 1.0e9), (16.90, 6.0e8), (16.97, 4.0e8), (17.05, 7.0e8),
    (17.10, 2.0e8), (17.20, 6.0e8), (17.28, 3.0e8), (17.35, 1.0e9), (17.40, 5.0e8), (17.45, 1.5e8),
    (17.50, 6.0e8), (17.60, 1.0e9), (17.65, 3.0e8), (17.70, 7.0e8), (17.78, 1.5e7), (17.85, 8.0e6),
    (17.92, 5.0e7), (17.98, 2.0e8), (18.05, 1.5e8), (18.40, 5.0e8), (18.45, 2.0e8), (18.55, 1.5e8),
    (18.62, 1.2e8), (18.70, 6.0e8), (18.82, 2.5e8), (18.92, 8.0e7), (18.98, 1.5e8), (19.08, 5.0e8),
    (19.13, 2.0e9), (19.20, 7.0e8), (19.28, 2.0e9), (19.30, 8.0e8), (19.40, 1.0e9), (19.45, 2.0e9),
    (19.50, 8.0e8), (19.55, 1.5e9), (19.60, 5.0e8), (19.65, 1.0e8), (19.70, 5.0e7), (19.76, 2.0e7),
    (19.80, 3.0e8), (19.87, 2.0e9), (19.92, 1.2e9), (19.97, 5.0e8), (20.03, 4.0e8), (20.08, 1.0e9),
    (20.13, 7.0e8), (20.20, 3.0e8), (20.24, 2.0e8), (20.30, 6.0e8), (20.35, 1.2e9), (20.40, 4.0e8),
    (20.45, 6.0e8), (20.50, 3.0e8), (20.55, 9.0e8), (20.60, 2.5e8), (20.68, 4.0e8), (20.72, 1.5e8),
    (20.78, 8.0e7), (20.80, 5.0e7),
    (15.48, 5.0e6), (15.52, 8.0e6), (15.56, 1.0e7), (15.60, 1.5e7), (15.64, 8.0e6), (15.66, 2.0e7),
    (15.70, 3.0e7), (15.72, 1.0e8), (15.76, 2.0e8), (15.80, 1.0e8), (15.83, 4.0e8), (15.87, 3.0e8),
    (15.92, 7.0e8), (15.97, 3.0e8), (16.03, 2.0e8), (16.06, 1.5e9), (16.10, 6.0e7), (16.14, 2.0e7),
    (16.17, 6.0e7), (16.22, 1.0e8), (16.25, 3.0e7), (16.30, 2.0e8), (16.34, 1.2e8), (16.39, 5.0e7),
    (16.44, 6.0e7), (16.50, 4.0e7), (16.52, 2.5e8), (16.57, 1.5e8), (16.62, 3.0e8), (16.66, 1.5e8),
    (16.70, 5.0e7), (16.73, 8.0e8), (16.77, 4.0e8), (16.83, 1.2e9), (16.87, 3.0e8), (16.92, 5.0e8),
    (16.99, 2.0e8), (17.03, 4.0e8), (17.07, 9.0e8), (17.14, 1.0e8), (17.17, 3.0e7), (17.22, 1.5e8),
    (17.30, 8.0e8), (17.34, 4.0e8), (17.39, 1.5e8), (17.43, 9.0e8), (17.49, 1.5e9), (17.52, 3.0e8),
    (17.57, 6.0e8), (17.61, 2.0e9), (17.66, 1.0e9), (17.69, 4.0e8), (17.73, 1.5e8), (17.76, 5.0e7),
    (17.80, 1.0e7), (17.83, 1.5e7), (17.87, 6.0e6), (17.90, 1.0e7), (17.93, 2.0e8), (17.97, 1.0e8),
    (18.02, 2.5e8), (18.08, 8.0e7), (18.14, 6.0e8), (18.18, 3.0e8), (18.22, 1.2e8), (18.25, 3.0e7),
    (18.30, 1.2e7), (18.34, 1.0e8), (18.42, 4.0e8), (18.50, 6.0e8), (18.57, 3.0e8), (18.60, 5.0e8),
    (18.65, 1.5e9), (18.72, 2.0e8), (18.78, 5.0e8), (18.85, 3.0e8), (18.88, 5.0e7), (18.93, 2.5e8),
    (18.97, 4.0e8), (19.02, 6.0e8), (19.06, 1.2e9), (19.10, 3.0e8), (19.15, 6.0e8), (19.18, 2.5e9),
    (19.24, 1.0e9), (19.27, 5.0e8), (19.33, 1.2e9), (19.36, 6.0e9), (19.39, 1.5e9), (19.44, 5.0e8),
    (19.48, 1.0e9), (19.52, 2.5e9), (19.57, 1.0e9), (19.62, 3.0e8), (19.66, 1.5e8), (19.69, 1.5e7),
    (19.72, 5.0e7), (19.78, 1.0e8), (19.83, 1.5e9), (19.86, 4.0e9), (19.90, 5.0e8), (19.94, 2.0e9),
    (19.98, 1.0e9), (20.02, 2.5e9), (20.07, 5.0e8), (20.10, 1.5e9), (20.15, 1.5e9), (20.18, 3.0e8),
    (20.22, 1.0e9), (20.27, 3.0e8), (20.33, 2.5e8), (20.38, 8.0e8), (20.43, 3.0e8), (20.48, 6.0e8),
    (20.52, 1.2e9), (20.57, 5.0e8), (20.62, 7.0e8), (20.66, 2.5e8), (20.70, 1.2e9), (20.75, 1.8e8),
    (20.81, 3.0e7),
    (21.37, 5.9e6), (21.42, 1.8e7), (21.39, 1.5e6), (21.53, 7.4e6), (21.58, 8.7e7), (21.63, 3.0e6),
    (21.68, 1.5e6), (21.74, 2.7e8), (21.79, 5.6e7), (21.84, 2.9e7), (21.84, 7.4e6), (21.89, 1.2e6),
    (21.89, 6.3e5), (21.95, 1.1e8), (22.00, 1.8e7), (22.05, 4.3e8), (22.11, 1.1e8), (22.16, 5.9e6),
    (22.26, 1.3e9), (22.26, 7.1e7), (22.32, 1.2e7), (22.37, 4.7e6), (22.42, 3.4e8), (22.42, 2.4e6),
    (22.42, 1.2e6), (22.45, 3.2e5), (22.47, 1.3e5), (22.45, 5.2e4), (22.53, 2.0e5), (22.47, 5.6e7),
    (22.37, 1.1e8), (21.45, 1.0e7), (21.50, 3.0e7), (21.55, 5.0e7), (21.60, 1.5e7), (21.65, 2.0e8),
    (21.70, 1.0e8), (21.75, 4.0e7), (21.80, 1.5e8), (21.85, 8.0e7), (21.90, 2.0e8), (21.93, 4.0e7),
    (21.97, 3.0e8), (22.02, 6.0e7), (22.08, 2.0e8), (22.13, 3.0e7), (22.18, 1.0e8), (22.22, 5.0e7),
    (22.30, 2.0e7), (22.35, 3.0e7), (22.40, 5.0e7), (22.44, 1.5e7), (22.50, 1.0e7), (21.98, 9.0e6),
    (22.05, 5.0e6), (21.40, 3.0e6), (21.47, 5.0e6), (21.52, 2.0e7), (21.57, 1.2e7), (21.62, 5.0e7),
    (21.67, 3.0e7), (21.72, 8.0e7), (21.77, 2.0e7), (21.82, 4.0e7), (21.87, 1.5e8), (21.92, 1.0e8),
    (21.96, 2.0e7), (22.00, 5.0e7), (22.04, 2.0e8), (22.09, 4.0e7), (22.15, 2.0e7), (22.20, 8.0e7),
    (22.24, 4.0e7), (22.28, 1.0e7), (22.34, 5.0e6), (22.38, 2.0e7), (22.43, 8.0e6), (22.46, 4.0e6),
    (22.49, 1.0e5), (22.46, 2.0e5), (22.51, 6.0e4), (21.75, 3.0e6), (21.80, 5.0e6), (22.10, 4.0e6),
]

W, H = 1124, 1362
fig = plt.figure(figsize=(W / 100, H / 100), dpi=100, facecolor='#fdede0')
fig.patches.append(Rectangle((85 / W, 0), 1, 1 - 22 / H, transform=fig.transFigure,
                             facecolor='white', edgecolor='none', zorder=-5))
# little slide connector arrows on the right edge
for tip, half in [((1114, 306), 10), ((1104, 670), 15), ((1114, 967), 10)]:
    x0, y0 = tip
    pts = [(x0 / W, 1 - y0 / H), ((x0 + 22) / W, 1 - (y0 - half) / H), ((x0 + 22) / W, 1 - (y0 + half) / H)]
    fig.patches.append(Polygon(pts, closed=True, transform=fig.transFigure,
                               facecolor='#7ea7cf', edgecolor='none', zorder=5))


def panel(top_px, bottom_px):
    # axes run past the right edge of the canvas on purpose
    return fig.add_axes([211 / W, 1 - bottom_px / H, 932 / W, (bottom_px - top_px) / H])


def style(ax):
    ax.set_xlim(12, 24)
    ax.set_xticks(hour_ticks)
    ax.set_xticklabels(hour_labels)
    ax.tick_params(direction='in', length=7, width=1.1, top=True, right=True,
                   labelsize=13.5, colors='#111111')
    ax.tick_params(axis='x', pad=14)
    ax.tick_params(axis='y', pad=6)
    for s in ax.spines.values():
        s.set_linewidth(1.3)
    ax.grid(True, color='k', linestyle=(0, (1.2, 6.5)), linewidth=1.0)
    ax.set_axisbelow(True)


def power_labels(ax, exps, base_dx, exp_dx, exp_dy):
    # MATLAB-style "10" with the exponent sitting above and to the right
    for e in exps:
        ax.annotate('10', xy=(0, 10.0 ** e), xycoords=('axes fraction', 'data'),
                    xytext=(base_dx, 0), textcoords='offset points', ha='right', va='center',
                    fontsize=13.5, annotation_clip=False)
        ax.annotate(str(e), xy=(0, 10.0 ** e), xycoords=('axes fraction', 'data'),
                    xytext=(exp_dx, exp_dy), textcoords='offset points', ha='left', va='center',
                    fontsize=10, annotation_clip=False)


# cloud height
ax1 = panel(62, 300)
style(ax1)
t, v = np.array(cloud_base).T
ax1.plot(t, v, 'D', color='b', mec='b', ms=6.5)
t, v = np.array(cloud_top).T
ax1.plot(t, v, 'D', color=(0, 0.5, 0), mec=(0, 0.5, 0), ms=6.5)
ax1.set_ylim(0, 15000)
ax1.set_yticks([0, 5000, 10000, 15000])
ax1.set_ylabel('Cloud Height (m)', fontsize=13.5, va='center')
ax1.yaxis.set_label_coords((121 - 211) / 932, 0.5)

# liquid water path
ax2 = panel(387, 639)
style(ax2)
ax2.set_yscale('log')
ax2.set_ylim(1e-2, 1e2)
ax2.set_yticks([1e-2, 1e0, 1e2])
ax2.yaxis.set_minor_locator(NullLocator())
ax2.tick_params(axis='y', labelleft=False)
power_labels(ax2, [-2, 0, 2], -18, -16, 15.5)
t, v = np.array(adiab_lwp).T
ax2.plot(t, v, 'x', color='b', ms=8, mew=1.0, label='Adiab. LWP')
t, v = np.array(meas_lwp).T
ax2.plot(t, v, 'D', color='r', mec='r', ms=6.5, label='Meas. LWP')
ax2.axhline(lwp_threshold, color='k', lw=1.4)
ax2.set_title('Liquid Water Path', fontsize=12.5, pad=14)
ax2.set_ylabel('(kg/m$^2$)', fontsize=13.5, va='center')
ax2.yaxis.set_label_coords((140 - 211) / 932, 0.5)
leg = ax2.legend(loc='upper left', bbox_to_anchor=((222 - 211) / 932, 0.96), borderaxespad=0,
                 fontsize=13.5, fancybox=False, edgecolor='k', framealpha=1, numpoints=1,
                 borderpad=0.8, handlelength=3.6, handletextpad=0.7, labelspacing=0.9,
                 markerscale=0.85)
leg.get_frame().set_linewidth(1.3)

# adiabatic parameter
ax3 = panel(738, 975)
style(ax3)
t, v = np.array(beta).T
ax3.plot(t, v, '+', color='k', ms=10, mew=1.3, clip_on=False)
ax3.set_ylim(0, 1)
ax3.set_yticks([0, 0.5, 1])
ax3.set_yticklabels(['0', '0.5', '1'])
ax3.set_title('Adiabatic Parameter', fontsize=12.5, pad=14)
ax3.set_ylabel('Beta', fontsize=13.5, va='center')
ax3.yaxis.set_label_coords((150 - 211) / 932, 0.5)

# drop number concentration
ax4 = panel(1059, 1298)
style(ax4)
ax4.set_yscale('log')
ax4.set_ylim(1e4, 1e11)
ax4.set_yticks([10.0 ** k for k in range(4, 12)])
ax4.yaxis.set_minor_locator(NullLocator())
ax4.tick_params(axis='y', labelleft=False)
power_labels(ax4, [5, 6, 7, 8, 9, 10], -20, -19, 14.5)
t, v = np.array(drop_conc).T
ax4.plot(t, v, 'x', color='b', ms=8, mew=1.1)
ax4.set_title('Drop Number Conc', fontsize=12.5, pad=13)
ax4.set_ylabel('m$^{-3}$', fontsize=13.5, va='center')
ax4.yaxis.set_label_coords((140 - 211) / 932, 0.5)

fig.text(675 / W, 1 - 1344 / H, 'August 15, 2010 UTC hour', ha='center', va='top', fontsize=17.5)

fig.savefig('out.png', dpi=100, facecolor=fig.get_facecolor())
